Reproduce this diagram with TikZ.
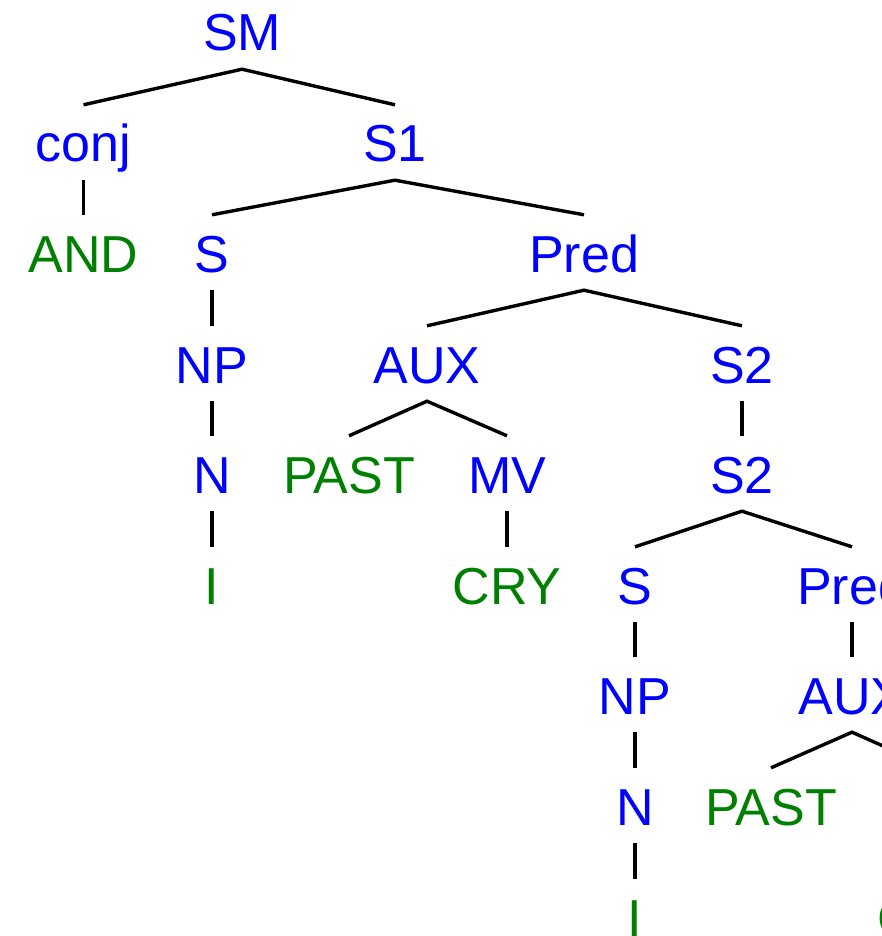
\documentclass[tikz,border=0pt]{standalone}
\usepackage{fontspec}
\setmainfont{Liberation Sans}
\definecolor{ntblue}{RGB}{0,0,255}
\definecolor{tgreen}{RGB}{0,128,0}
\begin{document}
\begin{tikzpicture}[x=1pt,y=-1pt,
  lab/.style={anchor=base,inner xsep=0pt,inner ysep=18pt,text height=39pt,text depth=0pt,
    font=\fontsize{52}{60}\selectfont},
  nt/.style={lab,text=ntblue},
  tm/.style={lab,text=tgreen},
  edge/.style={draw=black,line width=3.4pt}]
\useasboundingbox (0,0) rectangle (882,936);
% level 0
\node[nt] (SM) at (242,51) {SM};
% level 1
\node[nt] (conj) at (83.5,162) {conj};
\node[nt] (S1) at (395,162) {S1};
% level 2
\node[tm] (AND) at (83.5,272) {AND};
\node[nt] (S) at (212,272) {S};
\node[nt] (Pred) at (584,272) {Pred};
% level 3
\node[nt] (NP) at (212,383) {NP};
\node[nt] (AUX) at (427,383) {AUX};
\node[nt] (S2) at (742,383) {S2};
% level 4
\node[nt] (N) at (212,493) {N};
\node[tm] (PAST) at (349,493) {PAST};
\node[nt] (MV) at (507,493) {MV};
\node[nt] (S2b) at (742,493) {S2};
% level 5
\node[tm] (I) at (212,604) {I};
\node[tm] (CRY) at (507,604) {CRY};
\node[nt] (Sb) at (635,604) {S};
\node[nt] (Predb) at (852,604) {Pred};
% level 6
\node[nt] (NPb) at (635,714) {NP};
\node[nt] (AUXb) at (852,714) {AUX};
% level 7
\node[nt] (Nb) at (635,825) {N};
\node[tm] (PASTb) at (771,825) {PAST};
\node[nt] (MVb) at (932,825) {MV};
% level 8
\node[tm] (Ib) at (635,936) {I};
\node[tm] (CRYb) at (932,936) {CRY};
% connectors
\path[edge] (conj.north) -- (SM.south) -- (S1.north);
\path[edge] (conj.south) -- (AND.north);
\path[edge] (S.north) -- (S1.south) -- (Pred.north);
\path[edge] (S.south) -- (NP.north);
\path[edge] (NP.south) -- (N.north);
\path[edge] (N.south) -- (I.north);
\path[edge] (AUX.north) -- (Pred.south) -- (S2.north);
\path[edge] (PAST.north) -- (AUX.south) -- (MV.north);
\path[edge] (MV.south) -- (CRY.north);
\path[edge] (S2.south) -- (S2b.north);
\path[edge] (Sb.north) -- (S2b.south) -- (Predb.north);
\path[edge] (Sb.south) -- (NPb.north);
\path[edge] (NPb.south) -- (Nb.north);
\path[edge] (Nb.south) -- (Ib.north);
\path[edge] (Predb.south) -- (AUXb.north);
\path[edge] (PASTb.north) -- (AUXb.south) -- (MVb.north);
\path[edge] (MVb.south) -- (CRYb.north);
\end{tikzpicture}
\end{document}
